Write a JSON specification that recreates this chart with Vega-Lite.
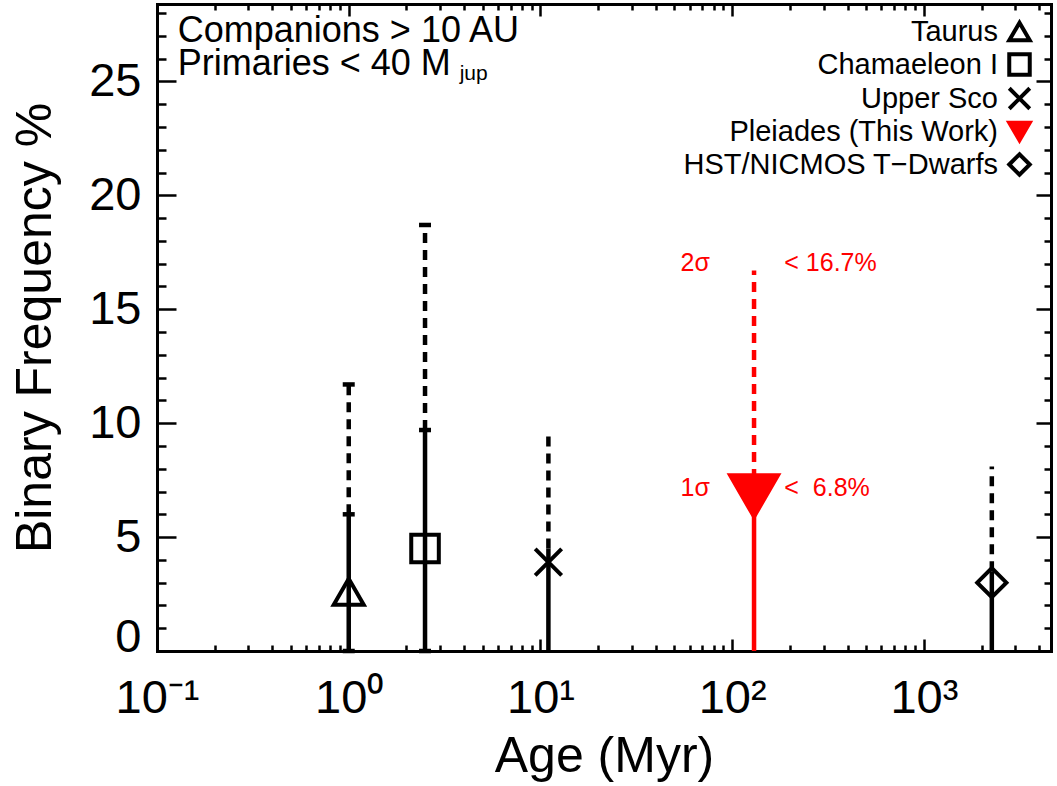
{
  "$schema": "https://vega.github.io/schema/vega-lite/v6.json",
  "width": 894,
  "height": 647,
  "autosize": {"type": "none"},
  "padding": {"left": 157, "top": 4, "right": 6, "bottom": 135},
  "background": "white",
  "config": {
    "view": {"stroke": null},
    "font": "Liberation Sans",
    "axis": {
      "grid": false, "domainColor": "#000", "domainWidth": 3, "domainCap": "square",
      "tickColor": "#000", "tickWidth": 2.5,
      "labelFont": "Liberation Sans", "labelFontSize": 47, "labelColor": "#000",
      "titleFont": "Liberation Sans", "titleFontSize": 50, "titleFontWeight": "normal", "titleColor": "#000",
      "labelFlush": false, "labelOverlap": false, "labelBound": false
    },
    "legend": {
      "labelFont": "Liberation Sans", "labelFontSize": 29, "labelColor": "#000",
      "labelLimit": 600, "symbolStrokeWidth": 4, "symbolSize": 420, "rowPadding": -3
    }
  },
  "datasets": {
    "groups": [
      {"name": "Taurus", "age": 1.0, "freq": 2.6, "lo": 0, "hi1": 6.0, "hi2": 11.7},
      {"name": "Chamaeleon I", "age": 2.5, "freq": 4.5, "lo": 0, "hi1": 9.7, "hi2": 18.7},
      {"name": "Upper Sco", "age": 11, "freq": 3.9, "lo": 0, "hi1": 4.5, "hi2": 9.7},
      {"name": "Pleiades (This Work)", "age": 130, "freq": 6.8, "lo": 0, "hi1": 6.8, "hi2": 16.7},
      {"name": "HST/NICMOS T−Dwarfs", "age": 2260, "freq": 3.0, "lo": 0, "hi1": 3.5, "hi2": 8.1}
    ],
    "notes": [
      {"age": 0.1283, "freq": 26.72, "text": "Companions > 10 AU"},
      {"age": 0.1283, "freq": 25.3, "text": "Primaries < 40 M"}
    ],
    "sub": [
      {"age": 3.79, "freq": 25.08, "text": "jup"}
    ],
    "rednotes": [
      {"age": 53.8, "freq": 16.7, "text": "2σ"},
      {"age": 187, "freq": 16.7, "text": "< 16.7%"},
      {"age": 53.8, "freq": 6.8, "text": "1σ"},
      {"age": 187, "freq": 6.8, "text": "< \u00a06.8%"}
    ]
  },
  "layer": [
    {
      "data": {"name": "groups"},
      "mark": {"type": "rule", "strokeWidth": 4.5},
      "encoding": {
        "x": {
          "field": "age", "type": "quantitative",
          "scale": {"type": "log", "domain": [0.1, 4600], "nice": false},
          "axis": {
            "orient": "bottom", "values": [0.1, 1, 10, 100, 1000],
            "labelExpr": "datum.value < 0.5 ? '10⁻¹' : datum.value < 5 ? '10⁰' : datum.value < 50 ? '10¹' : datum.value < 500 ? '10²' : '10³'",
            "tickSize": -12, "labelPadding": 36, "title": "Age (Myr)", "titlePadding": 10
          }
        },
        "y": {
          "field": "lo", "type": "quantitative",
          "scale": {"domain": [0, 28.4], "nice": false, "zero": false},
          "axis": {
            "orient": "left", "values": [0, 5, 10, 15, 20, 25],
            "tickSize": -19, "labelPadding": 35, "title": "Binary Frequency %", "titlePadding": 28,
            "labelBaseline": {"condition": {"test": "datum.value === 0", "value": "alphabetic"}, "value": "middle"}
          }
        },
        "y2": {"field": "hi1"},
        "stroke": {"condition": {"test": "datum.name === 'Pleiades (This Work)'", "value": "#ff0000"}, "value": "#000000"}
      }
    },
    {
      "data": {"name": "groups"},
      "mark": {"type": "rule", "strokeWidth": 4.5, "strokeDash": [10, 7]},
      "encoding": {
        "x": {
          "field": "age", "type": "quantitative",
          "scale": {"type": "log", "domain": [0.1, 4600], "nice": false},
          "axis": {
            "orient": "bottom", "values": [0.2, 0.3, 0.4, 0.5, 0.6, 0.7, 0.8, 0.9, 2, 3, 4, 5, 6, 7, 8, 9, 20, 30, 40, 50, 60, 70, 80, 90, 200, 300, 400, 500, 600, 700, 800, 900, 2000, 3000, 4000],
            "tickSize": -6, "labels": false, "title": null
          }
        },
        "y": {
          "field": "hi1", "type": "quantitative",
          "scale": {"domain": [0, 28.4], "nice": false, "zero": false},
          "axis": {
            "orient": "left", "values": [1, 2, 3, 4, 6, 7, 8, 9, 11, 12, 13, 14, 16, 17, 18, 19, 21, 22, 23, 24, 26, 27, 28],
            "tickSize": -9, "labels": false, "title": null
          }
        },
        "y2": {"field": "hi2"},
        "stroke": {"condition": {"test": "datum.name === 'Pleiades (This Work)'", "value": "#ff0000"}, "value": "#000000"}
      }
    },
    {
      "data": {"name": "groups"},
      "transform": [
        {"filter": "datum.name === 'Taurus' || datum.name === 'Chamaeleon I'"},
        {"fold": ["lo", "hi1", "hi2"], "as": ["level", "value"]}
      ],
      "mark": {"type": "tick", "orient": "horizontal", "size": 12, "thickness": 4.5, "color": "#000", "opacity": 1},
      "encoding": {
        "x": {
          "field": "age", "type": "quantitative",
          "scale": {"type": "log", "domain": [0.1, 4600], "nice": false},
          "axis": {"orient": "top", "values": [0.1, 1, 10, 100, 1000], "tickSize": -12, "labels": false, "title": null}
        },
        "y": {
          "field": "value", "type": "quantitative",
          "scale": {"domain": [0, 28.4], "nice": false, "zero": false},
          "axis": {"orient": "right", "values": [0, 5, 10, 15, 20, 25], "tickSize": -15, "labels": false, "title": null}
        }
      }
    },
    {
      "data": {"name": "groups"},
      "mark": {"type": "point", "strokeWidth": 4, "opacity": 1},
      "encoding": {
        "x": {
          "field": "age", "type": "quantitative",
          "scale": {"type": "log", "domain": [0.1, 4600], "nice": false},
          "axis": {
            "orient": "top", "values": [0.2, 0.3, 0.4, 0.5, 0.6, 0.7, 0.8, 0.9, 2, 3, 4, 5, 6, 7, 8, 9, 20, 30, 40, 50, 60, 70, 80, 90, 200, 300, 400, 500, 600, 700, 800, 900, 2000, 3000, 4000],
            "tickSize": -6, "labels": false, "title": null
          }
        },
        "y": {
          "field": "freq", "type": "quantitative",
          "scale": {"domain": [0, 28.4], "nice": false, "zero": false},
          "axis": {
            "orient": "right", "values": [1, 2, 3, 4, 6, 7, 8, 9, 11, 12, 13, 14, 16, 17, 18, 19, 21, 22, 23, 24, 26, 27, 28],
            "tickSize": -7, "labels": false, "title": null
          }
        },
        "shape": {
          "field": "name", "type": "nominal",
          "scale": {"domain": ["Taurus", "Chamaeleon I", "Upper Sco", "Pleiades (This Work)", "HST/NICMOS T−Dwarfs"],
                    "range": ["triangle-up", "square", "M-1,-1L1,1M-1,1L1,-1", "triangle-down", "diamond"]},
          "legend": {
            "title": null, "orient": "top-right", "offset": 13, "labelAlign": "right", "labelOffset": -36,
            "encode": {
              "labels": {"update": {"fill": {"signal": "datum.value === 'Pleiades (This Work)' ? '#ff0000' : '#000000'"}}}
            }
          }
        },
        "fill": {
          "field": "name", "type": "nominal",
          "scale": {"domain": ["Taurus", "Chamaeleon I", "Upper Sco", "Pleiades (This Work)", "HST/NICMOS T−Dwarfs"],
                    "range": ["transparent", "transparent", "transparent", "#ff0000", "transparent"]},
          "legend": {
            "title": null, "orient": "top-right", "offset": 13, "labelAlign": "right", "labelOffset": -36,
            "encode": {
              "labels": {"update": {"fill": {"signal": "datum.value === 'Pleiades (This Work)' ? '#ff0000' : '#000000'"}}}
            }
          }
        },
        "stroke": {
          "field": "name", "type": "nominal",
          "scale": {"domain": ["Taurus", "Chamaeleon I", "Upper Sco", "Pleiades (This Work)", "HST/NICMOS T−Dwarfs"],
                    "range": ["#000000", "#000000", "#000000", "#ff0000", "#000000"]},
          "legend": {
            "title": null, "orient": "top-right", "offset": 13, "labelAlign": "right", "labelOffset": -36,
            "encode": {
              "labels": {"update": {"fill": {"signal": "datum.value === 'Pleiades (This Work)' ? '#ff0000' : '#000000'"}}}
            }
          }
        },
        "size": {
          "field": "name", "type": "nominal",
          "scale": {"type": "ordinal", "domain": ["Pleiades (This Work)", "Taurus", "Chamaeleon I", "Upper Sco", "HST/NICMOS T−Dwarfs"],
                    "range": [2300, 900, 760, 700, 850]},
          "legend": null
        }
      }
    },
    {
      "data": {"name": "notes"},
      "mark": {"type": "text", "align": "left", "baseline": "alphabetic", "fontSize": 36, "font": "Liberation Sans", "color": "#000"},
      "encoding": {
        "x": {"field": "age", "type": "quantitative", "scale": {"type": "log", "domain": [0.1, 4600], "nice": false}, "axis": null},
        "y": {"field": "freq", "type": "quantitative", "scale": {"domain": [0, 28.4], "nice": false, "zero": false}, "axis": null},
        "text": {"field": "text"}
      }
    },
    {
      "data": {"name": "sub"},
      "mark": {"type": "text", "align": "left", "baseline": "alphabetic", "fontSize": 21, "font": "Liberation Sans", "color": "#000"},
      "encoding": {
        "x": {"field": "age", "type": "quantitative", "scale": {"type": "log", "domain": [0.1, 4600], "nice": false}, "axis": null},
        "y": {"field": "freq", "type": "quantitative", "scale": {"domain": [0, 28.4], "nice": false, "zero": false}, "axis": null},
        "text": {"field": "text"}
      }
    },
    {
      "data": {"name": "rednotes"},
      "mark": {"type": "text", "align": "left", "baseline": "alphabetic", "fontSize": 25, "font": "Liberation Sans", "color": "#ff0000"},
      "encoding": {
        "x": {"field": "age", "type": "quantitative", "scale": {"type": "log", "domain": [0.1, 4600], "nice": false}, "axis": null},
        "y": {"field": "freq", "type": "quantitative", "scale": {"domain": [0, 28.4], "nice": false, "zero": false}, "axis": null},
        "text": {"field": "text"}
      }
    }
  ],
  "resolve": {"axis": {"x": "independent", "y": "independent"}}
}
